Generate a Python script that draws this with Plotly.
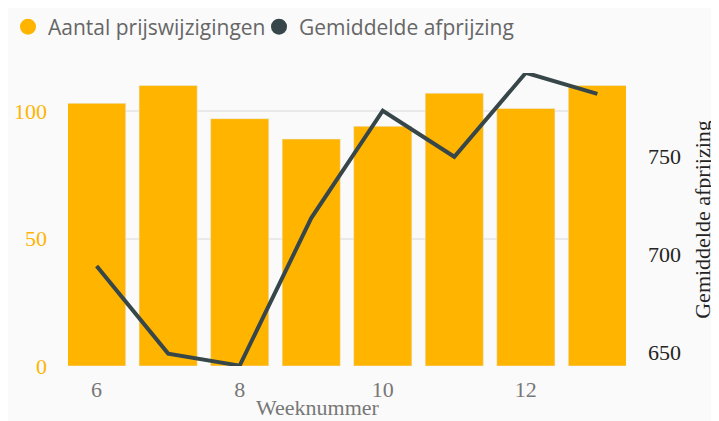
import plotly.graph_objects as go

weeks = [6, 7, 8, 9, 10, 11, 12, 13]
aantal_prijswijzigingen = [103, 110, 97, 89, 94, 107, 101, 110]
gemiddelde_afprijzing = [694.0, 649.5, 643.4, 718.4, 773.0, 749.6, 792.3, 781.6]

x_ticks = [6, 8, 10, 12]
left_ticks = [0, 50, 100]
right_ticks = [650, 700, 750]

BAR = "#FFB500"
LINE = "#374649"
BG = "#FAFAFA"
SERIF = "Liberation Serif"
SANS = "Open Sans"

fig = go.Figure()
fig.add_trace(go.Bar(x=weeks, y=aantal_prijswijzigingen, marker_color=BAR,
                     name="Aantal prijswijzigingen", showlegend=False, yaxis="y"))
fig.add_trace(go.Scatter(x=weeks, y=gemiddelde_afprijzing, mode="lines",
                         line=dict(color=LINE, width=4), name="Gemiddelde afprijzing",
                         showlegend=False, yaxis="y2", cliponaxis=False))
# legend entries with round markers
fig.add_trace(go.Scatter(x=[None], y=[None], mode="markers", name="Aantal prijswijzigingen",
                         marker=dict(symbol="circle", size=21, color=BAR), legend="legend"))
fig.add_trace(go.Scatter(x=[None], y=[None], mode="markers", name="Gemiddelde afprijzing",
                         marker=dict(symbol="circle", size=21, color=LINE), legend="legend2"))

legend_font = dict(family=SANS, size=21, color="#666666")

fig.update_layout(
    width=719, height=421,
    margin=dict(l=60, r=101, t=65, b=63),
    paper_bgcolor=BG, plot_bgcolor=BG,
    bargap=0.187,
    showlegend=True,
    legend=dict(orientation="h", xref="container", yref="container",
                x=0, xanchor="left", y=1 - 19 / 421, yanchor="middle",
                font=legend_font, itemwidth=30, bgcolor="rgba(0,0,0,0)"),
    legend2=dict(orientation="h", xref="container", yref="container",
                 x=251 / 719, xanchor="left", y=1 - 19 / 421, yanchor="middle",
                 font=legend_font, itemwidth=30, bgcolor="rgba(0,0,0,0)"),
    xaxis=dict(range=[5.6, 13.4], tickvals=x_ticks, showgrid=False, zeroline=False,
               automargin=False,
               tickfont=dict(family=SERIF, size=22, color="#777777"),
               ticklabelstandoff=8),
    yaxis=dict(range=[0, 114.9], tickvals=left_ticks, showgrid=True, gridcolor="#E9E9E9",
               gridwidth=2, zeroline=False, automargin=False,
               tickfont=dict(family=SERIF, size=22, color=BAR), ticklabelstandoff=20),
    yaxis2=dict(range=[643.2, 792.2], tickvals=right_ticks, overlaying="y", side="right",
                showgrid=False, zeroline=False, automargin=False,
                tickfont=dict(family=SERIF, size=22, color="#252423"), ticklabelstandoff=21,
                title=dict(text="Gemiddelde afprijzing", standoff=14,
                           font=dict(family=SERIF, size=22, color="#252423"))),
    annotations=[dict(text="Weeknummer", xref="paper", yref="paper",
                      x=(318 - 68) / 558, y=-0.093, xanchor="center", yanchor="top",
                      showarrow=False, font=dict(family=SERIF, size=22, color="#777777"))],
)

fig.write_html("out.html")
